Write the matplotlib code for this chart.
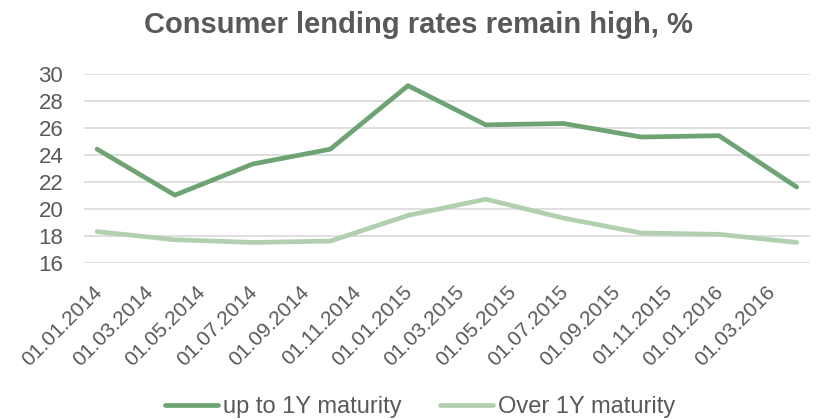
import numpy as np
import matplotlib
matplotlib.use('Agg')
from matplotlib import pyplot as plt
from matplotlib.transforms import ScaledTranslation

# quarterly observations, rates in %
dates = ['01.01.2014', '01.04.2014', '01.07.2014', '01.10.2014', '01.01.2015',
         '01.04.2015', '01.07.2015', '01.10.2015', '01.01.2016', '01.04.2016']
short_term = [24.4, 21.0, 23.3, 24.4, 29.1, 26.2, 26.3, 25.3, 25.4, 21.6]
long_term = [18.3, 17.7, 17.5, 17.6, 19.5, 20.7, 19.3, 18.2, 18.1, 17.5]

tick_dates = ['01.01.2014', '01.03.2014', '01.05.2014', '01.07.2014', '01.09.2014',
              '01.11.2014', '01.01.2015', '01.03.2015', '01.05.2015', '01.07.2015',
              '01.09.2015', '01.11.2015', '01.01.2016', '01.03.2016']

DARK = '#6EA474'
LIGHT = '#B1D0B0'
GREY = '#595959'


def month_index(s):
	d, m, y = s.split('.')
	return (int(y) - 2014) * 12 + int(m) - 1


x = np.array([month_index(d) for d in dates])
ticks = np.array([month_index(d) for d in tick_dates])

plt.rcParams['font.family'] = ['Liberation Sans', 'DejaVu Sans']

fig = plt.figure(figsize=(8.17, 4.2), dpi=100)
ax = fig.add_axes([0.103, 0.3745, 0.888, 0.4505])

ax.plot(x, short_term, color=DARK, lw=3.4, solid_capstyle='round',
        solid_joinstyle='round', label='up to 1Y maturity', zorder=3)
ax.plot(x, long_term, color=LIGHT, lw=3.4, solid_capstyle='round',
        solid_joinstyle='round', label='Over 1Y maturity', zorder=3)

ax.set_ylim(16, 30)
ax.set_yticks(np.arange(16, 31, 2))
ax.set_xlim(x[0] - 0.5, x[-1] + 0.5)
ax.set_xticks(ticks)
ax.set_xticklabels(tick_dates, rotation=45, ha='right', va='top',
                   rotation_mode='anchor', fontsize=15)

ax.grid(axis='y', color='#D9D9D9', lw=1.2, zorder=0)
for s in ax.spines.values():
	s.set_visible(False)
ax.tick_params(axis='both', length=0, labelcolor=GREY)
ax.tick_params(axis='y', pad=15, labelsize=16)
ax.tick_params(axis='x', pad=14)

# nudge the slanted date labels so they end right under their tick
shift = ScaledTranslation(-5 / 100, 0, fig.dpi_scale_trans)
for lab in ax.get_xticklabels():
	lab.set_transform(lab.get_transform() + shift)

fig.text(0.512, 1 - 33 / 420, 'Consumer lending rates remain high, %',
         fontsize=21, fontweight='bold', color=GREY, ha='center', va='baseline')

leg = fig.legend(loc='center', bbox_to_anchor=(0.514, 1 - 407 / 420), ncol=2,
                 frameon=False, fontsize=17, handlelength=2.25,
                 handletextpad=0.2, columnspacing=1.65)
for t in leg.get_texts():
	t.set_color(GREY)

fig.savefig('out.png', dpi=100)
